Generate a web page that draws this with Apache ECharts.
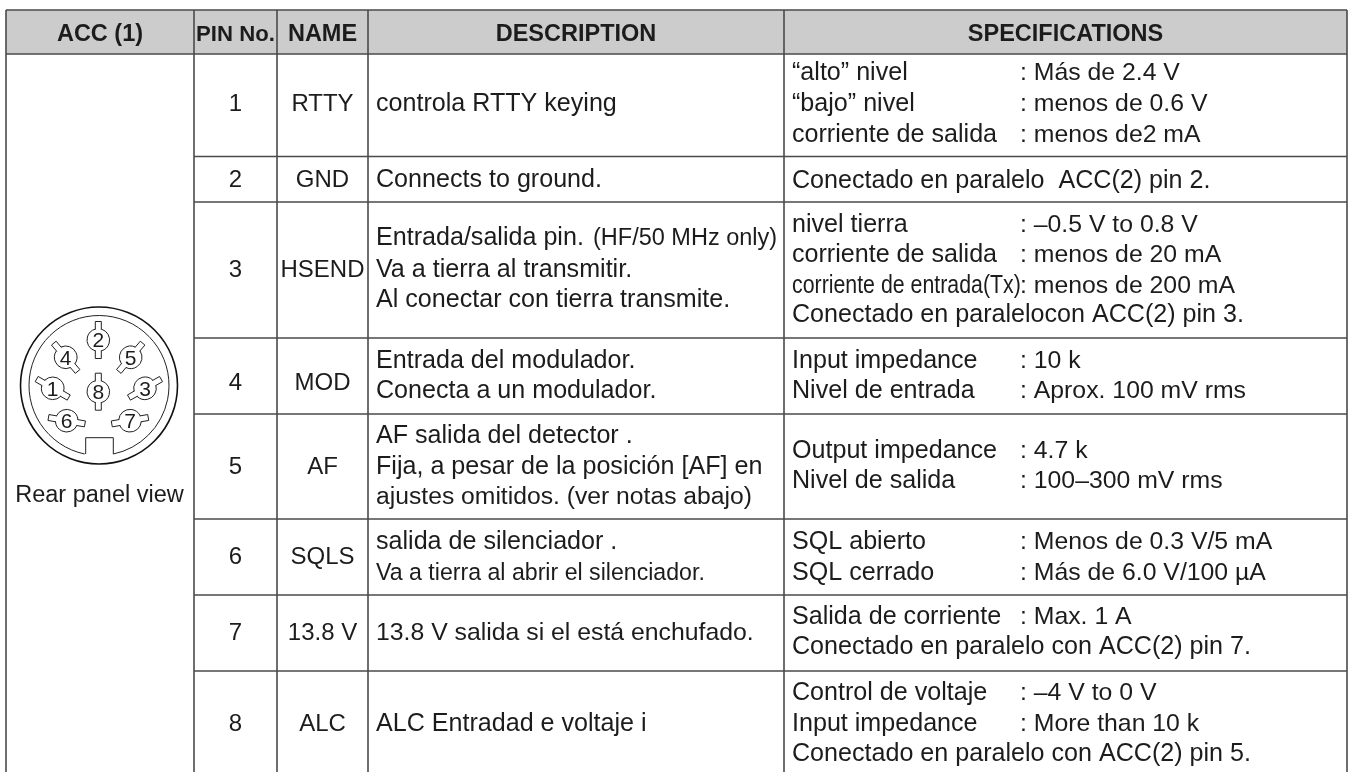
<!DOCTYPE html>
<html><head><meta charset="utf-8">
<style>html,body{margin:0;padding:0;background:#fff}#c{width:1354px;height:772px}</style>
<script src="https://cdn.jsdelivr.net/npm/echarts@6/dist/echarts.min.js"></script>
</head><body><div id="c"></div>
<script>
// ---- table content ----
const headers = ['ACC (1)', 'PIN No.', 'NAME', 'DESCRIPTION', 'SPECIFICATIONS'];
const pinNumbers = ['1','2','3','4','5','6','7','8'];
const pinNames = ['RTTY','GND','HSEND','MOD','AF','SQLS','13.8 V','ALC'];
const descriptions = [
  ['controla RTTY keying'],
  ['Connects to ground.'],
  ['Entrada/salida pin.','Va a tierra al transmitir.','Al conectar con tierra transmite.'],
  ['Entrada del modulador.','Conecta a un modulador.'],
  ['AF salida del detector .','Fija, a pesar de la posición [AF] en','ajustes omitidos. (ver notas abajo)'],
  ['salida de silenciador .','Va a tierra al abrir el silenciador.'],
  ['13.8 V salida si el está enchufado.'],
  ['ALC Entradad e voltaje i']
];
const descriptionNote = '(HF/50 MHz only)';
const specLabels = [
  ['“alto” nivel','“bajo” nivel','corriente de salida'],
  ['Conectado en paralelo  ACC(2) pin 2.'],
  ['nivel tierra','corriente de salida','corriente de entrada(Tx)','Conectado en paralelocon ACC(2) pin 3.'],
  ['Input impedance','Nivel de entrada'],
  ['Output impedance','Nivel de salida'],
  ['SQL abierto','SQL cerrado'],
  ['Salida de corriente','Conectado en paralelo con ACC(2) pin 7.'],
  ['Control de voltaje','Input impedance','Conectado en paralelo con ACC(2) pin 5.']
];
const specValues = [
  [': Más de 2.4 V',': menos de 0.6 V',': menos de2 mA'],
  [''],
  [': –0.5 V to 0.8 V',': menos de 20 mA',': menos de 200 mA',''],
  [': 10 k',': Aprox. 100 mV rms'],
  [': 4.7 k',': 100–300 mV rms'],
  [': Menos de 0.3 V/5 mA',': Más de 6.0 V/100 µA'],
  [': Max. 1 A',''],
  [': –4 V to 0 V',': More than 10 k','']
];
const panelCaption = 'Rear panel view';
const connectorPins = ['1','2','3','4','5','6','7','8'];

// ---- layout (page units, mapped through the axes) ----
const columnEdges = [6, 194, 277, 368, 784, 1347];
const rowEdges = [10, 54, 156.5, 202, 338, 414, 519, 595, 671, 772];
const headerBaseline = 41;
const cellBaselines = [111, 187, 277, 390, 474, 564, 640, 731];
const descBaselines = [[111],[187],[245,277,307],[368,398],[443,474,504],[549,580],[640],[731]];
const specBaselines = [[80,111,142],[188],[232,262,293,322],[368,398],[458,488],[549,580],[624,654],[700,731,761]];
const descX = 376, specX = 792, colonX = 1020, noteX = 593;
const captionAt = [99.5, 502];
const ring = {cx: 99, cy: 385.5, outer: 78.5, inner: 70, notchL: 85.7, notchR: 113.3, notchTop: 437.7};
const pinX = [52.7, 98.3, 145, 65.7, 130.7, 66.7, 130, 98.3];
const pinY = [388.3, 340, 388.3, 357.3, 357.3, 420.7, 420.7, 391.7];
const pinAngle = [30, 90, 150, 50, 130, 10, 170, 90];
const FS = 25.1, FS_VAL = 24.8, FS_HEAD = 23.5, FS_CELL = 24, FS_PIN = 21, FONT = '"Liberation Sans", Arial, Helvetica, sans-serif';
const INK = '#1c1c1c', RULE = '#4a4a4a';
const descSizeOverride = {'4.2': 24.7, '5.1': 23.15, '6.0': 24.8};
const condensedLine = {text: 'corriente de entrada(Tx)', scaleX: 0.85};

// ---- build text records ----
const texts = [];
const T = (x,y,text,align,bold,size,sx) => { if(text) texts.push({x,y,text,align,bold,size:size||FS,sx:sx||1}); };
headers.forEach((h,i)=>T((columnEdges[i]+columnEdges[i+1])/2, headerBaseline, h, 'center', true, i===1?22.2:FS_HEAD));
pinNumbers.forEach((p,i)=>T((columnEdges[1]+columnEdges[2])/2, cellBaselines[i], p, 'center', false, FS_CELL));
pinNames.forEach((p,i)=>T((columnEdges[2]+columnEdges[3])/2, cellBaselines[i], p, 'center', false, FS_CELL));
descriptions.forEach((ls,i)=>ls.forEach((l,j)=>T(descX, descBaselines[i][j], l, 'left', false, descSizeOverride[i+'.'+j])));
T(noteX, descBaselines[2][0], descriptionNote, 'left', false, 23.5);
specLabels.forEach((ls,i)=>ls.forEach((l,j)=>{
  T(specX, specBaselines[i][j], l, 'left', false, FS, l===condensedLine.text?condensedLine.scaleX:1);
  T(colonX, specBaselines[i][j], specValues[i][j], 'left', false, FS_VAL);
}));
T(captionAt[0], captionAt[1], panelCaption, 'center', false, FS_CELL-0.5);
connectorPins.forEach((p,i)=>T(pinX[i], pinY[i]+7.5, p, 'center', false, FS_PIN));

// ---- rules ----
const rules = [];
columnEdges.forEach((x,i)=>{ rules.push([x, rowEdges[0], x, rowEdges[rowEdges.length-1]]); });
rules.push([columnEdges[0], rowEdges[0], columnEdges[5], rowEdges[0]]);
rules.push([columnEdges[0], rowEdges[1], columnEdges[5], rowEdges[1]]);
rowEdges.slice(2,-1).forEach(y=>rules.push([columnEdges[1], y, columnEdges[5], y]));

const option = {
  animation: false,
  backgroundColor: '#fff',
  grid: {left:0, right:0, top:0, bottom:0},
  xAxis: {type:'value', min:0, max:1354, show:false},
  yAxis: {type:'value', min:0, max:772, inverse:true, show:false},
  series: [
    { type:'custom', name:'header band', silent:true, clip:false, z:1,
      data:[[columnEdges[0],rowEdges[0],columnEdges[5],rowEdges[1]]],
      renderItem(p,api){
        const a=api.coord([api.value(0),api.value(1)]), b=api.coord([api.value(2),api.value(3)]);
        return {type:'rect',shape:{x:a[0],y:a[1],width:b[0]-a[0],height:b[1]-a[1]},style:{fill:'#cccccc'}};
      }},
    { type:'custom', name:'connector', silent:true, clip:false, z:2,
      data:[[ring.cx,ring.cy]],
      renderItem(p,api){
        const c=api.coord([ring.cx,ring.cy]);
        const th=Math.asin((ring.notchR-ring.cx)/ring.inner);
        const l=api.coord([ring.notchL,ring.notchTop]), r=api.coord([ring.notchR,ring.notchTop]);
        const by=c[1]+ring.inner*Math.cos(th);
        const a0=Math.PI/2+th, a1=Math.PI*2+Math.PI/2-th;
        return {type:'group',children:[
          {type:'circle',shape:{cx:c[0],cy:c[1],r:ring.outer},style:{fill:'none',stroke:'#111',lineWidth:1.6}},
          {type:'arc',shape:{cx:c[0],cy:c[1],r:ring.inner,startAngle:a0,endAngle:a1,clockwise:true},style:{fill:'none',stroke:'#222',lineWidth:1}},
          {type:'polyline',shape:{points:[[l[0],by],[l[0],l[1]],[r[0],r[1]],[r[0],by]]},style:{fill:'none',stroke:'#222',lineWidth:1}}
        ]};
      }},
    { type:'custom', name:'pins', silent:true, clip:false, z:3,
      data:pinX.map((x,i)=>[x,pinY[i],pinAngle[i]]),
      renderItem(p,api){
        const c=api.coord([api.value(0),api.value(1)]);
        const t=api.value(2)*Math.PI/180, R=11.3, L=18.5, w=3;
        const ux=Math.cos(t), uy=Math.sin(t);
        const tab=s=>[
          [c[0]+s*(R-1)*ux-w*uy, c[1]+s*(R-1)*uy+w*ux],
          [c[0]+s*L*ux-w*uy, c[1]+s*L*uy+w*ux],
          [c[0]+s*L*ux+w*uy, c[1]+s*L*uy-w*ux],
          [c[0]+s*(R-1)*ux+w*uy, c[1]+s*(R-1)*uy-w*ux]];
        const st={fill:'none',stroke:'#222',lineWidth:1};
        const gapA=Math.asin(w/R);
        const arc=(from,to)=>({type:'arc',shape:{cx:c[0],cy:c[1],r:R,startAngle:from,endAngle:to,clockwise:true},style:st});
        return {type:'group',children:[
          {type:'polyline',shape:{points:tab(-1)},style:st},
          {type:'polyline',shape:{points:tab(1)},style:st},
          arc(t+gapA,t+Math.PI-gapA),
          arc(t+Math.PI+gapA,t+2*Math.PI-gapA)
        ]};
      }},
    { type:'custom', name:'rules', silent:true, clip:false, z:4,
      data:rules,
      renderItem(p,api){
        const a=api.coord([api.value(0),api.value(1)]), b=api.coord([api.value(2),api.value(3)]);
        return {type:'line',shape:{x1:a[0],y1:a[1],x2:b[0],y2:b[1]},style:{stroke:RULE,lineWidth:1.6}};
      }},
    { type:'custom', name:'texts', silent:true, clip:false, z:5,
      data:texts.map(t=>[t.x,t.y]),
      renderItem(p,api){
        const t=texts[p.dataIndex], c=api.coord([t.x,t.y]);
        return {type:'text',x:c[0],y:c[1]-t.size*0.28,scaleX:t.sx,style:{x:0,y:0,text:t.text,fill:INK,
          font:(t.bold?'bold ':'')+t.size+'px '+FONT,textAlign:t.align,textVerticalAlign:'middle'}};
      }}
  ]
};
echarts.init(document.getElementById('c'),null,{renderer:'canvas'}).setOption(option);
</script></body></html>
